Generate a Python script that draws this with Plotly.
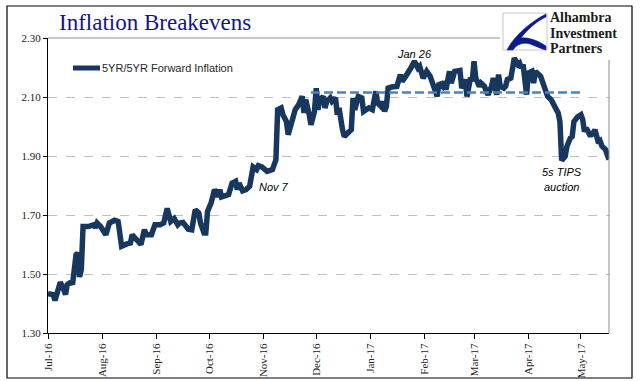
import plotly.graph_objects as go

# ---------------- data ----------------
dates = [
    "2016-07-01","2016-07-04","2016-07-05","2016-07-07","2016-07-08","2016-07-10","2016-07-11","2016-07-12",
    "2016-07-14","2016-07-15","2016-07-16","2016-07-17","2016-07-18","2016-07-19","2016-07-20","2016-07-21",
    "2016-07-24","2016-07-27","2016-07-28","2016-07-29","2016-07-31",
    "2016-08-03","2016-08-05","2016-08-08","2016-08-10","2016-08-11","2016-08-12","2016-08-15","2016-08-17",
    "2016-08-18","2016-08-20","2016-08-23","2016-08-25","2016-08-26","2016-08-29","2016-08-31",
    "2016-09-03","2016-09-05","2016-09-07","2016-09-08","2016-09-09","2016-09-11","2016-09-13","2016-09-14",
    "2016-09-16","2016-09-19","2016-09-21","2016-09-23","2016-09-25","2016-09-26","2016-09-28","2016-09-29","2016-09-30",
    "2016-10-02","2016-10-04","2016-10-06","2016-10-07","2016-10-08","2016-10-10","2016-10-12","2016-10-14",
    "2016-10-16","2016-10-17","2016-10-18","2016-10-20","2016-10-22","2016-10-24","2016-10-26","2016-10-28",
    "2016-10-29","2016-10-31",
    "2016-11-03","2016-11-06","2016-11-08","2016-11-09","2016-11-11","2016-11-12","2016-11-14","2016-11-15",
    "2016-11-17","2016-11-19","2016-11-21","2016-11-23","2016-11-24","2016-11-25","2016-11-27","2016-11-28","2016-11-30",
    "2016-12-01","2016-12-02","2016-12-03","2016-12-05","2016-12-06","2016-12-07","2016-12-09","2016-12-10",
    "2016-12-12","2016-12-13","2016-12-14","2016-12-16","2016-12-17","2016-12-19","2016-12-21","2016-12-22",
    "2016-12-23","2016-12-25","2016-12-27","2016-12-28","2016-12-30","2016-12-31",
    "2017-01-02","2017-01-03","2017-01-04","2017-01-05","2017-01-07","2017-01-08","2017-01-09","2017-01-10",
    "2017-01-11","2017-01-13","2017-01-16","2017-01-18","2017-01-19","2017-01-21","2017-01-23","2017-01-24",
    "2017-01-26","2017-01-28","2017-01-29","2017-01-31",
    "2017-02-02","2017-02-04","2017-02-06","2017-02-08","2017-02-09","2017-02-11","2017-02-12","2017-02-13",
    "2017-02-15","2017-02-16","2017-02-18","2017-02-21","2017-02-22","2017-02-24","2017-02-25","2017-02-27","2017-02-28",
    "2017-03-01","2017-03-02","2017-03-04","2017-03-05","2017-03-07","2017-03-08","2017-03-09","2017-03-11",
    "2017-03-12","2017-03-14","2017-03-15","2017-03-16","2017-03-18","2017-03-19","2017-03-20","2017-03-22",
    "2017-03-23","2017-03-24","2017-03-26","2017-03-27","2017-03-28","2017-03-29","2017-03-30","2017-03-31",
    "2017-04-01","2017-04-03","2017-04-04","2017-04-05","2017-04-06","2017-04-08","2017-04-09","2017-04-11",
    "2017-04-12","2017-04-14","2017-04-16","2017-04-18","2017-04-19","2017-04-20","2017-04-22","2017-04-23",
    "2017-04-25","2017-04-26","2017-04-27","2017-04-28","2017-04-29",
    "2017-05-01","2017-05-02","2017-05-03","2017-05-04","2017-05-06","2017-05-07","2017-05-08","2017-05-09",
    "2017-05-11","2017-05-12","2017-05-13","2017-05-15","2017-05-17",
]
values = [
    1.433,1.430,1.410,1.447,1.472,1.447,1.430,1.464,1.472,1.465,1.543,1.565,1.571,1.490,1.515,1.661,
    1.661,1.667,1.657,1.673,1.661,
    1.633,1.673,1.682,1.678,1.616,1.594,1.602,1.605,1.633,1.619,1.600,1.650,1.633,1.633,1.667,
    1.667,1.673,1.722,1.700,1.678,1.688,1.667,1.673,1.675,1.652,1.650,1.718,1.707,1.673,1.639,1.639,1.712,
    1.740,1.786,1.763,1.786,1.761,1.763,1.769,1.808,1.814,1.786,1.808,1.782,1.786,1.797,1.863,1.854,
    1.867,1.863,
    1.848,1.854,1.887,2.057,2.063,2.040,2.017,1.972,2.023,2.057,2.074,2.102,2.046,2.091,2.040,2.006,2.051,
    2.130,2.057,2.091,2.102,2.063,2.085,2.097,2.085,2.097,2.040,2.063,1.989,1.966,1.978,1.989,2.097,
    2.057,2.102,2.097,2.051,2.057,2.063,
    2.057,2.091,2.119,2.080,2.068,2.085,2.051,2.068,2.130,2.134,2.136,2.176,2.153,2.170,2.187,2.198,
    2.221,2.198,2.204,2.164,
    2.187,2.170,2.136,2.102,2.147,2.136,2.153,2.125,2.187,2.147,2.187,2.190,2.130,2.159,2.102,2.165,2.153,
    2.221,2.164,2.136,2.147,2.136,2.119,2.108,2.136,2.164,2.108,2.176,2.136,2.130,2.136,2.159,2.164,
    2.193,2.232,2.210,2.215,2.198,2.210,2.159,2.108,
    2.181,2.187,2.147,2.187,2.181,2.170,2.153,2.125,2.102,2.091,2.068,2.046,2.017,1.885,1.899,1.933,
    1.961,1.966,2.017,2.029,2.032,
    2.040,2.023,1.983,1.995,1.972,1.972,1.978,1.989,1.944,1.950,1.933,1.922,1.888,
]

tick_dates = ["2016-07-01","2016-08-01","2016-09-01","2016-10-01","2016-11-01","2016-12-01",
              "2017-01-01","2017-02-01","2017-03-01","2017-04-01","2017-05-01"]
tick_labels = ["Jul-16","Aug-16","Sep-16","Oct-16","Nov-16","Dec-16",
               "Jan-17","Feb-17","Mar-17","Apr-17","May-17"]
y_ticks = [1.30, 1.50, 1.70, 1.90, 2.10, 2.30]

avg_level = 2.115
avg_start, avg_end = "2016-11-28", "2017-05-01"

note_dates = ["2016-11-07", "2017-01-26", "2017-04-20", "2017-04-20"]
note_levels = [1.796, 2.247, 1.846, 1.796]
note_texts = ["Nov 7", "Jan 26", "5s TIPS", "auction"]

logo_words = ["Alhambra", "Investment", "Partners"]

# ---------------- layout helpers ----------------
W, H = 641, 381
L, R, T, B = 48, 32, 38, 48
PW, PH = W - L - R, H - T - B


def px(x):
    return (x - L) / PW


def py(y):
    return (H - B - y) / PH


LINE_COLOR = "#17375e"

fig = go.Figure()
fig.add_trace(go.Scatter(
    x=dates, y=values, mode="lines",
    line=dict(color=LINE_COLOR, width=5.5),
    name="5YR/5YR Forward Inflation", showlegend=False, hoverinfo="skip",
))

shapes = []
# average dashed line
shapes.append(dict(type="line", xref="x", yref="y", x0=avg_start, x1=avg_end,
                   y0=avg_level, y1=avg_level,
                   line=dict(color="#4f81bd", width=2.5, dash="9px,4px"), layer="above"))
# plot area top & right borders (gray)
shapes.append(dict(type="line", xref="paper", yref="paper", x0=0, x1=px(500), y0=1, y1=1,
                   line=dict(color="#8c8c8c", width=1)))
shapes.append(dict(type="line", xref="paper", yref="paper", x0=1, x1=1, y0=0, y1=py(60),
                   line=dict(color="#8c8c8c", width=1)))
# outer frame
shapes.append(dict(type="rect", xref="paper", yref="paper", x0=px(7), x1=px(632), y0=py(378), y1=py(6),
                   line=dict(color="black", width=1.2), fillcolor="rgba(0,0,0,0)", layer="above"))
# legend sample
shapes.append(dict(type="line", xref="paper", yref="paper", x0=px(73), x1=px(100), y0=py(68), y1=py(68),
                   line=dict(color=LINE_COLOR, width=5), layer="above"))
# logo box
shapes.append(dict(type="rect", xref="paper", yref="paper", x0=px(503), x1=px(547), y0=py(50), y1=py(13),
                   line=dict(color="#c8c8c8", width=1), fillcolor="white", layer="above"))


def path_from(points):
    s = ""
    for cmd, pts in points:
        s += cmd + " " + " ".join(f"{px(a):.5f},{py(b):.5f}" for a, b in pts) + " "
    return s + "Z"


swoosh = path_from([
    ("M", [(546, 14)]),
    ("C", [(530, 22), (514, 36), (507, 50)]),
    ("L", [(513, 50)]),
    ("C", [(517, 44), (523, 42), (530, 44)]),
    ("C", [(536, 46), (541, 49), (546, 50)]),
    ("L", [(546, 46)]),
    ("C", [(538, 41), (530, 37), (521, 38)]),
    ("C", [(528, 29), (537, 21), (546, 17)]),
])
shapes.append(dict(type="path", xref="paper", yref="paper", path=swoosh,
                   fillcolor="#0d1a8c", line=dict(color="#0d1a8c", width=0.5), layer="above"))

annotations = []
# title
annotations.append(dict(text="Inflation Breakevens", xref="paper", yref="paper",
                        x=px(57), y=py(23), xanchor="left", yanchor="middle", showarrow=False,
                        font=dict(family="Liberation Serif", size=23, color="#14148a")))
# legend text
annotations.append(dict(text="5YR/5YR Forward Inflation", xref="paper", yref="paper",
                        x=px(100), y=py(68), xanchor="left", yanchor="middle", showarrow=False,
                        font=dict(family="Liberation Sans", size=11, color="#262626")))
# logo text
for i, word in enumerate(logo_words):
    annotations.append(dict(text=f"<b>{word}</b>", xref="paper", yref="paper",
                            x=px(548), y=py(18 + 15 * i), xanchor="left", yanchor="middle",
                            showarrow=False,
                            font=dict(family="Liberation Serif", size=14, color="#1a1a1a")))
# chart notes
for d, v, txt in zip(note_dates, note_levels, note_texts):
    annotations.append(dict(text=f"<i>{txt}</i>", x=d, y=v, xref="x", yref="y",
                            xanchor="center", yanchor="middle", showarrow=False,
                            font=dict(family="Liberation Sans", size=11, color="black")))

fig.update_layout(
    width=W, height=H,
    margin=dict(l=L, r=R, t=T, b=B, pad=0),
    paper_bgcolor="white", plot_bgcolor="white",
    showlegend=False,
    shapes=shapes, annotations=annotations,
    xaxis=dict(type="date", range=["2016-07-01", "2017-05-17"],
               tickmode="array", tickvals=tick_dates, ticktext=tick_labels,
               tickangle=-90, ticks="outside", ticklen=5, tickcolor="black",
               showline=True, linecolor="black", linewidth=1.2, showgrid=False, zeroline=False,
               automargin=False,
               tickfont=dict(family="Liberation Serif", size=11, color="#222")),
    yaxis=dict(range=[1.30, 2.30], tickmode="array", tickvals=y_ticks,
               ticktext=[f"{v:.2f}" for v in y_ticks],
               ticks="outside", ticklen=4, tickcolor="black",
               showline=True, linecolor="black", linewidth=1.2, automargin=False,
               showgrid=True, gridcolor="#c0c0c0", griddash="dash", gridwidth=1, zeroline=False,
               tickfont=dict(family="Liberation Serif", size=11, color="#222")),
)

fig.write_html("out.html", config={"displayModeBar": False},
               post_script="document.body.style.margin='0';document.body.style.overflow='hidden';")
